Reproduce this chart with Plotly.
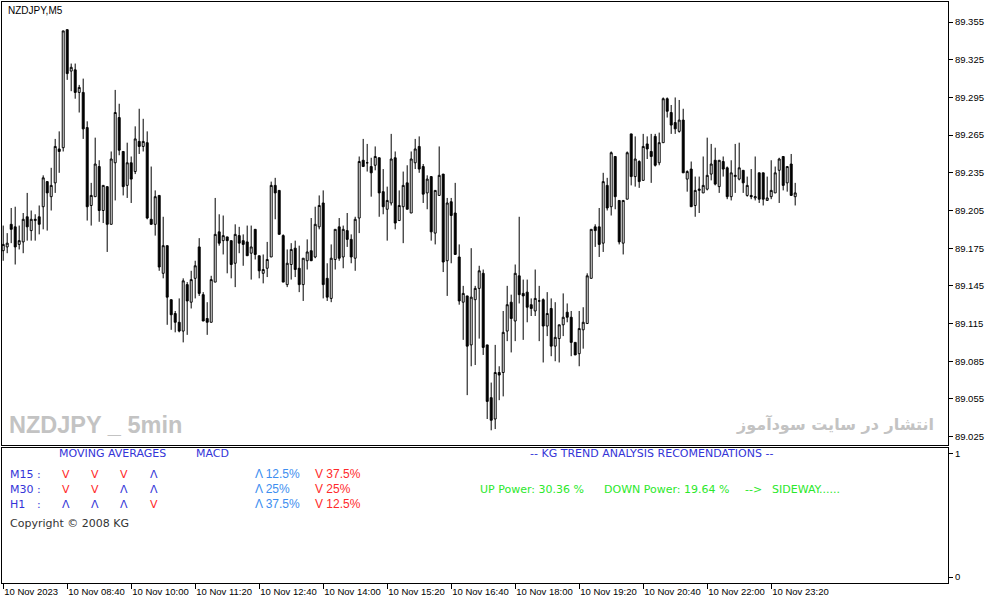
import plotly.graph_objs as go
import pandas as pd

# NZDJPY M5 candles, 10 Nov 2023 from 07:20
opens = [
    89.173, 89.176, 89.194, 89.192, 89.178, 89.180, 89.200, 89.189, 89.197, 89.200,
    89.208, 89.228, 89.216, 89.227, 89.254, 89.255, 89.349, 89.316, 89.317, 89.299,
    89.299, 89.271, 89.209, 89.216, 89.240, 89.205, 89.224, 89.194, 89.243, 89.279,
    89.252, 89.225, 89.243, 89.236, 89.260, 89.256, 89.259, 89.198, 89.194, 89.217,
    89.155, 89.177, 89.134, 89.123, 89.116, 89.109, 89.146, 89.132, 89.151, 89.176,
    89.138, 89.119, 89.116, 89.148, 89.188, 89.181, 89.184, 89.181, 89.163, 89.185,
    89.181, 89.180, 89.171, 89.190, 89.169, 89.155, 89.159, 89.168, 89.225, 89.221,
    89.185, 89.146, 89.162, 89.175, 89.159, 89.146, 89.165, 89.173, 89.168, 89.192,
    89.211, 89.151, 89.135, 89.166, 89.192, 89.168, 89.189, 89.182, 89.167, 89.199,
    89.245, 89.243, 89.240, 89.241, 89.247, 89.220, 89.206, 89.211, 89.247, 89.197,
    89.208, 89.227, 89.203, 89.243, 89.256, 89.240, 89.219, 89.232, 89.187, 89.217,
    89.234, 89.165, 89.212, 89.203, 89.168, 89.132, 89.137, 89.098, 89.134, 89.143,
    89.155, 89.098, 89.056, 89.039, 89.076, 89.076, 89.109, 89.132, 89.117, 89.153,
    89.139, 89.140, 89.130, 89.125, 89.133, 89.134, 89.113, 89.127, 89.097, 89.103,
    89.114, 89.124, 89.120, 89.100, 89.091, 89.110, 89.115, 89.151, 89.192, 89.192,
    89.179, 89.225, 89.208, 89.248, 89.213, 89.179, 89.214, 89.266, 89.232, 89.244,
    89.229, 89.258, 89.252, 89.264, 89.243, 89.259, 89.294, 89.283, 89.275, 89.268,
    89.277, 89.230, 89.238, 89.209, 89.221, 89.219, 89.222, 89.234, 89.245, 89.224,
    89.244, 89.239, 89.216, 89.232, 89.230, 89.237, 89.217, 89.217, 89.215, 89.235,
    89.235, 89.213, 89.216, 89.219, 89.237, 89.248, 89.227, 89.242, 89.216,
]
highs = [
    89.193, 89.187, 89.207, 89.208, 89.193, 89.203, 89.219, 89.205, 89.202, 89.209,
    89.233, 89.228, 89.239, 89.262, 89.268, 89.348, 89.349, 89.322, 89.322, 89.305,
    89.310, 89.276, 89.227, 89.263, 89.245, 89.225, 89.224, 89.252, 89.301, 89.290,
    89.252, 89.259, 89.248, 89.272, 89.286, 89.278, 89.268, 89.240, 89.221, 89.217,
    89.200, 89.177, 89.134, 89.125, 89.135, 89.151, 89.148, 89.157, 89.165, 89.183,
    89.140, 89.132, 89.153, 89.215, 89.202, 89.201, 89.184, 89.181, 89.194, 89.192,
    89.186, 89.193, 89.193, 89.190, 89.169, 89.170, 89.180, 89.228, 89.231, 89.221,
    89.186, 89.174, 89.179, 89.181, 89.177, 89.167, 89.182, 89.199, 89.208, 89.217,
    89.221, 89.163, 89.178, 89.190, 89.199, 89.193, 89.203, 89.186, 89.200, 89.248,
    89.262, 89.258, 89.247, 89.256, 89.247, 89.238, 89.224, 89.266, 89.252, 89.221,
    89.236, 89.241, 89.252, 89.262, 89.264, 89.242, 89.233, 89.232, 89.221, 89.256,
    89.234, 89.215, 89.215, 89.227, 89.178, 89.145, 89.137, 89.175, 89.145, 89.161,
    89.158, 89.098, 89.068, 89.098, 89.081, 89.125, 89.145, 89.138, 89.162, 89.200,
    89.150, 89.150, 89.135, 89.158, 89.145, 89.135, 89.140, 89.135, 89.132, 89.114,
    89.139, 89.131, 89.125, 89.100, 89.125, 89.128, 89.155, 89.190, 89.194, 89.207,
    89.235, 89.231, 89.252, 89.248, 89.213, 89.213, 89.252, 89.266, 89.264, 89.245,
    89.266, 89.264, 89.266, 89.266, 89.267, 89.295, 89.295, 89.289, 89.295, 89.293,
    89.286, 89.237, 89.244, 89.232, 89.232, 89.248, 89.263, 89.258, 89.255, 89.245,
    89.248, 89.240, 89.245, 89.258, 89.259, 89.237, 89.232, 89.238, 89.248, 89.235,
    89.235, 89.232, 89.245, 89.240, 89.247, 89.248, 89.240, 89.250, 89.227,
]
lows = [
    89.165, 89.171, 89.179, 89.162, 89.174, 89.171, 89.181, 89.181, 89.181, 89.186,
    89.190, 89.189, 89.205, 89.219, 89.235, 89.252, 89.309, 89.300, 89.294, 89.283,
    89.262, 89.197, 89.193, 89.216, 89.196, 89.195, 89.172, 89.194, 89.213, 89.249,
    89.217, 89.215, 89.211, 89.234, 89.250, 89.252, 89.198, 89.194, 89.185, 89.157,
    89.151, 89.114, 89.110, 89.108, 89.108, 89.100, 89.106, 89.127, 89.135, 89.137,
    89.117, 89.106, 89.116, 89.148, 89.177, 89.170, 89.155, 89.151, 89.144, 89.171,
    89.161, 89.169, 89.150, 89.166, 89.151, 89.147, 89.152, 89.168, 89.198, 89.186,
    89.148, 89.144, 89.150, 89.152, 89.140, 89.133, 89.158, 89.165, 89.167, 89.190,
    89.135, 89.133, 89.132, 89.158, 89.165, 89.159, 89.176, 89.163, 89.157, 89.187,
    89.240, 89.236, 89.216, 89.237, 89.200, 89.202, 89.181, 89.209, 89.190, 89.197,
    89.179, 89.206, 89.203, 89.238, 89.235, 89.211, 89.206, 89.181, 89.178, 89.217,
    89.156, 89.137, 89.163, 89.170, 89.130, 89.102, 89.058, 89.081, 89.082, 89.103,
    89.090, 89.039, 89.030, 89.031, 89.054, 89.057, 89.101, 89.092, 89.101, 89.131,
    89.102, 89.116, 89.121, 89.121, 89.101, 89.084, 89.105, 89.089, 89.085, 89.084,
    89.105, 89.116, 89.089, 89.090, 89.081, 89.095, 89.115, 89.151, 89.176, 89.168,
    89.172, 89.205, 89.201, 89.206, 89.178, 89.170, 89.214, 89.225, 89.224, 89.223,
    89.229, 89.246, 89.227, 89.240, 89.241, 89.259, 89.279, 89.266, 89.266, 89.267,
    89.235, 89.220, 89.208, 89.200, 89.203, 89.219, 89.221, 89.229, 89.225, 89.219,
    89.232, 89.214, 89.213, 89.219, 89.229, 89.219, 89.216, 89.214, 89.213, 89.211,
    89.209, 89.213, 89.214, 89.219, 89.211, 89.221, 89.220, 89.217, 89.209,
]
closes = [
    89.178, 89.179, 89.190, 89.176, 89.181, 89.198, 89.192, 89.198, 89.198, 89.194,
    89.231, 89.219, 89.225, 89.256, 89.252, 89.348, 89.314, 89.319, 89.299, 89.303,
    89.270, 89.208, 89.217, 89.242, 89.205, 89.225, 89.194, 89.246, 89.283, 89.253,
    89.224, 89.243, 89.230, 89.262, 89.256, 89.260, 89.199, 89.194, 89.216, 89.160,
    89.177, 89.136, 89.122, 89.116, 89.109, 89.149, 89.133, 89.150, 89.161, 89.139,
    89.117, 89.116, 89.150, 89.186, 89.179, 89.185, 89.181, 89.162, 89.186, 89.179,
    89.178, 89.169, 89.176, 89.170, 89.157, 89.158, 89.166, 89.225, 89.219, 89.186,
    89.148, 89.163, 89.174, 89.158, 89.146, 89.167, 89.172, 89.165, 89.194, 89.209,
    89.146, 89.136, 89.167, 89.190, 89.167, 89.190, 89.182, 89.168, 89.198, 89.244,
    89.240, 89.243, 89.235, 89.248, 89.219, 89.208, 89.213, 89.246, 89.195, 89.209,
    89.225, 89.206, 89.246, 89.254, 89.238, 89.218, 89.230, 89.188, 89.221, 89.233,
    89.164, 89.211, 89.201, 89.170, 89.133, 89.139, 89.097, 89.136, 89.143, 89.157,
    89.096, 89.053, 89.038, 89.076, 89.074, 89.108, 89.130, 89.119, 89.155, 89.138,
    89.137, 89.128, 89.127, 89.135, 89.133, 89.113, 89.123, 89.097, 89.104, 89.114,
    89.120, 89.120, 89.100, 89.090, 89.111, 89.116, 89.153, 89.190, 89.189, 89.178,
    89.228, 89.207, 89.251, 89.216, 89.180, 89.213, 89.251, 89.232, 89.246, 89.228,
    89.256, 89.254, 89.248, 89.241, 89.259, 89.294, 89.284, 89.273, 89.270, 89.277,
    89.235, 89.236, 89.208, 89.221, 89.222, 89.225, 89.233, 89.242, 89.226, 89.245,
    89.238, 89.216, 89.235, 89.233, 89.239, 89.227, 89.225, 89.216, 89.216, 89.214,
    89.214, 89.215, 89.221, 89.235, 89.246, 89.225, 89.240, 89.217, 89.219,
]

times = pd.date_range("2023-11-10 07:20", periods=len(opens), freq="5min")

# axis ticks
price_ticks = [89.025, 89.055, 89.085, 89.115, 89.145, 89.175, 89.205,
               89.235, 89.265, 89.295, 89.325, 89.355]
time_ticks = pd.date_range("2023-11-10 07:20", "2023-11-10 23:20", freq="80min")
time_labels = ["10 Nov 2023", "10 Nov 08:40", "10 Nov 10:00", "10 Nov 11:20",
               "10 Nov 12:40", "10 Nov 14:00", "10 Nov 15:20", "10 Nov 16:40",
               "10 Nov 18:00", "10 Nov 19:20", "10 Nov 20:40", "10 Nov 22:00",
               "10 Nov 23:20"]

# indicator panel texts
tf_names = ["M15", "M30", "H1"]
ma_signals = [["V", "V", "V", "Λ"],
              ["V", "V", "Λ", "Λ"],
              ["Λ", "Λ", "Λ", "V"]]
up_pct = ["Λ 12.5%", "Λ 25%", "Λ 37.5%"]
down_pct = ["V 37.5%", "V 25%", "V 12.5%"]

# ----------------------------------------------------------------------------
W, H = 991, 605
ML, MR, MT, MB = 2, 43, 2, 22
PW, PH = W - ML - MR, H - MT - MB


def px(x):
    return (x - ML) / PW


def py(y):
    return (H - MB - y) / PH


t0 = times[0]
bar = pd.Timedelta(minutes=5)
x_range = [t0 - bar * 0.3, t0 + bar * 236.2]

BLUE = '#3434d8'
RED = '#ff2a2a'
LBLUE = '#3d8ef0'
GREEN = '#2be82b'
GREY = '#c3c3c3'

fig = go.Figure()

fig.add_trace(go.Candlestick(
    x=times, open=opens, high=highs, low=lows, close=closes,
    increasing=dict(fillcolor='white', line=dict(color='black', width=1)),
    decreasing=dict(fillcolor='black', line=dict(color='black', width=1)),
    whiskerwidth=0,
    showlegend=False,
    hoverinfo='skip',
    xaxis='x', yaxis='y',
))

fig.add_trace(go.Scatter(x=[t0], y=[None], mode='lines', showlegend=False,
                         hoverinfo='skip', xaxis='x2', yaxis='y2'))

ann = []


def text(x, y, s, color='black', size=11, family='DejaVu Sans', anchor='left'):
    ann.append(dict(x=px(x), y=py(y), xref='paper', yref='paper', text=s,
                    showarrow=False, xanchor=anchor, yanchor='middle',
                    font=dict(color=color, size=size, family=family)))


text(6, 10, 'NZDJPY,M5', size=10, family='Liberation Sans')
text(7, 425, '<b>NZDJPY _ 5min</b>', color=GREY, size=23.5,
     family='Liberation Sans')
text(936, 424, '<b>انتشار در سایت سودآموز</b>', color=GREY, size=16,
     family='DejaVu Sans', anchor='right')

text(57, 453, 'MOVING AVERAGES', color=BLUE)
text(194, 453, 'MACD', color=BLUE)
text(528, 453, '-- KG TREND ANALYSIS RECOMENDATIONS --', color=BLUE)

col_x = [66, 95, 124, 154]
row_y = [474, 489, 504]
for r, name in enumerate(tf_names):
    text(8, row_y[r], name, color=BLUE)
    text(35, row_y[r], ':', color=BLUE)
    for c, sig in enumerate(ma_signals[r]):
        text(col_x[c], row_y[r], sig, color=RED if sig == 'V' else BLUE,
             anchor='center')
    text(253, row_y[r], up_pct[r], color=LBLUE, size=12, family='Liberation Sans')
    text(313, row_y[r], down_pct[r], color=RED, size=12, family='Liberation Sans')

text(8, 523, 'Copyright © 2008 KG', color='#333333')

text(478, 489, 'UP Power: 30.36 %', color=GREEN)
text(602, 489, 'DOWN Power: 19.64 %', color=GREEN)
text(743, 489, '-->', color=GREEN)
text(770, 489, 'SIDEWAY......', color=GREEN)

axis_common = dict(showline=True, linecolor='black', linewidth=1, mirror=True,
                   showgrid=False, zeroline=False, automargin=False)

fig.update_layout(
    width=W, height=H,
    margin=dict(l=ML, r=MR, t=MT, b=MB),
    paper_bgcolor='white',
    plot_bgcolor='white',
    font=dict(family='Liberation Sans', size=10, color='black'),
    xaxis=dict(domain=[0, 1], anchor='y', range=x_range, showticklabels=False,
               ticks='', rangeslider=dict(visible=False), **axis_common),
    xaxis2=dict(domain=[0, 1], anchor='y2', range=x_range, matches='x',
                tickmode='array', tickvals=time_ticks, ticktext=time_labels,
                ticks='outside', ticklen=5, tickcolor='black', tickangle=0,
                ticklabelposition='outside right',
                tickfont=dict(size=9.5, family='Liberation Sans'),
                rangeslider=dict(visible=False), **axis_common),
    yaxis=dict(domain=[py(444.5), 1], anchor='x', side='right',
               range=[89.0187, 89.371], tickmode='array', tickvals=price_ticks,
               tickformat='.3f', ticks='outside', ticklen=4, tickcolor='black',
               tickfont=dict(size=9.5, family='Liberation Sans'),
               **axis_common),
    yaxis2=dict(domain=[0, py(447.5)], anchor='x2', side='right',
                range=[-0.048, 1.048], tickmode='array', tickvals=[0, 1],
                ticks='outside', ticklen=4, tickcolor='black',
                tickfont=dict(size=9.5, family='Liberation Sans'),
                **axis_common),
    annotations=ann,
    hovermode=False,
)

fig.write_html("out.html",
               config=dict(displayModeBar=False),
               post_script="document.body.style.margin='0';"
                           "document.body.style.overflow='hidden';")
